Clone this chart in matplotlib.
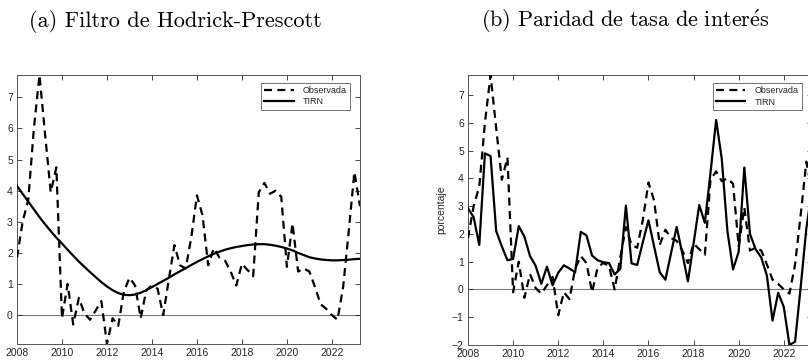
import matplotlib
matplotlib.use("Agg")
import matplotlib.pyplot as plt
import numpy as np
import pandas as pd

plt.rcParams["mathtext.fontset"] = "cm"
plt.rcParams["font.family"] = ["Liberation Sans", "DejaVu Sans"]

# Quarterly sample 2008Q1 - 2023Q2
quarters = pd.period_range("2008Q1", "2023Q2", freq="Q")

observada = [
    1.85, 3.0, 3.7, 6.0, 7.72, 5.8, 3.95, 4.75,
    -0.1, 1.0, -0.3, 0.55, 0.05, -0.15, 0.15, 0.45,
    -0.93, -0.1, -0.35, 0.75, 1.2, 0.95, -0.1, 0.8,
    0.95, 0.85, 0.0, 1.15, 2.25, 1.6, 1.5, 2.5,
    3.85, 3.2, 1.6, 2.15, 1.85, 1.75, 1.4, 0.95,
    1.65, 1.45, 1.25, 3.95, 4.25, 3.9, 4.0, 3.8,
    1.55, 2.95, 1.4, 1.5, 1.4, 0.9, 0.35, 0.2,
    0.0, -0.15, 0.9, 2.7, 4.6, 3.5,
]

tirn_hp = [
    4.15, 3.90, 3.65, 3.40, 3.15, 2.92, 2.70, 2.49,
    2.30, 2.10, 1.91, 1.72, 1.55, 1.38, 1.22, 1.06,
    0.92, 0.80, 0.71, 0.65, 0.64, 0.66, 0.72, 0.80,
    0.90, 1.00, 1.10, 1.20, 1.31, 1.41, 1.51, 1.61,
    1.71, 1.80, 1.89, 1.97, 2.04, 2.10, 2.15, 2.19,
    2.22, 2.25, 2.27, 2.28, 2.28, 2.26, 2.23, 2.19,
    2.14, 2.08, 2.00, 1.93, 1.86, 1.82, 1.79, 1.77,
    1.76, 1.76, 1.77, 1.78, 1.80, 1.81,
]

tirn_pti = [
    2.92, 2.6, 1.6, 4.9, 4.8, 2.1, 1.55, 1.05,
    1.1, 2.28, 1.9, 1.2, 0.85, 0.2, 0.82, 0.15,
    0.6, 0.87, 0.75, 0.62, 2.07, 1.95, 1.22, 1.05,
    0.98, 0.95, 0.54, 0.74, 3.02, 0.94, 0.88, 1.7,
    2.49, 1.55, 0.62, 0.35, 1.3, 2.25, 1.3, 0.29,
    1.65, 3.04, 2.4, 4.2, 6.1, 4.7, 2.1, 0.72,
    1.36, 4.39, 2.0, 1.45, 1.15, 0.5, -1.12, -0.12,
    -0.63, -2.0, -1.88, 0.1, 2.2, 3.6,
]

title_a = "(a) Filtro de Hodrick-Prescott"
title_b = r"$\mathrm{(b)\ Paridad\ de\ tasa\ de\ inter\acute{e}s}$"
year_ticks = list(range(2008, 2023, 2))
ylabel = "porcentaje"
legend_labels = ["Observada", "TIRN"]

x = np.array([q.year + (q.quarter - 1) / 4 for q in quarters])

fig = plt.figure(figsize=(8.08, 3.64), dpi=100)
W, H = 808, 364
ax1 = fig.add_axes([17 / W, 1 - 344 / H, 343 / W, 269 / H])
ax2 = fig.add_axes([468 / W, 1 - 345 / H, 344 / W, 270 / H])

axis_col = "#262626"
for ax, tirn, ytk in [(ax1, tirn_hp, range(0, 8)), (ax2, tirn_pti, range(-2, 8))]:
    ax.axhline(0, color="#7a7a7a", lw=0.8, zorder=1)
    ax.plot(x, observada, color="black", lw=1.6, dashes=(3.6, 2.4),
            label=legend_labels[0], zorder=3)
    ax.plot(x, tirn, color="black", lw=1.6, label=legend_labels[1], zorder=3)
    ymin = min(min(observada), min(tirn))
    ymax = max(max(observada), max(tirn))
    ax.set_ylim(ymin, ymax)
    ax.set_xlim(x[0], x[-1])
    ax.set_xticks(year_ticks)
    ax.set_yticks(list(ytk))
    ax.tick_params(direction="in", top=True, right=True, length=3.5,
                   width=0.6, labelsize=7.5, colors=axis_col, pad=3)
    for sp in ax.spines.values():
        sp.set_color("#555555")
        sp.set_linewidth(0.7)
    ax.set_ylabel(ylabel, fontsize=7.5, color=axis_col)
    ax.yaxis.set_label_coords(-22 / 343, 0.5)
    leg = ax.legend(loc="upper right", bbox_to_anchor=(0.97, 0.97),
                    borderaxespad=0, fontsize=6.5, frameon=True, fancybox=False,
                    handlelength=3.3, handletextpad=1.0, borderpad=0.35,
                    labelspacing=0.25)
    leg.get_frame().set_edgecolor("#333333")
    leg.get_frame().set_linewidth(0.6)
    for t in leg.get_texts():
        t.set_color(axis_col)

fig.text(175 / W, 1 - 27 / H, title_a, fontsize=16, family="cmr10",
         ha="center", va="baseline")
fig.text(625 / W, 1 - 27 / H, title_b, fontsize=16,
         ha="center", va="baseline")

fig.savefig("out.png", dpi=100)
